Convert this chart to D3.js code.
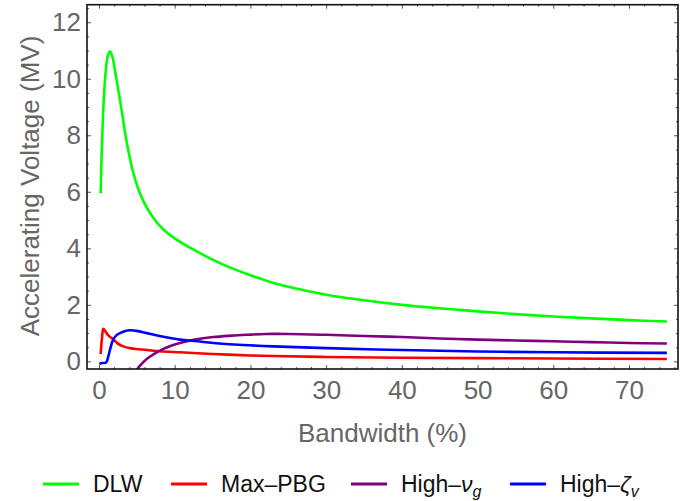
<!DOCTYPE html>
<html>
<head>
<meta charset="utf-8">
<script src="https://cdn.jsdelivr.net/npm/d3@7"></script>
<style>
  body { margin: 0; background: #fff; }
  svg { display: block; font-family: "Liberation Sans", Arial, sans-serif; }
</style>
</head>
<body>
<div id="chart"></div>
<script>
// Accelerating voltage vs bandwidth, 4 structures

const xMajorTicks = [0, 10, 20, 30, 40, 50, 60, 70];
const yMajorTicks = [0, 2, 4, 6, 8, 10, 12];

const seriesNames = ["DLW", "Max–PBG", "High–ν_g", "High–ζ_v"];

// [bandwidth %, voltage MV]
const dlwPoints = [
  [0.22, 5.95], [0.35, 7.3], [0.5, 8.5], [0.7, 9.6], [0.9, 10.3], [1.15, 10.8],
  [1.45, 10.96], [1.75, 10.8], [2.1, 10.3], [2.8, 9.2], [3.7, 7.7], [4.5, 6.7],
  [5.4, 5.95], [6.3, 5.45], [7.2, 5.07], [8, 4.8], [9, 4.55], [10, 4.35],
  [11.2, 4.15], [12.5, 3.95], [15, 3.6], [17.5, 3.3], [20, 3.05], [22.5, 2.82],
  [25, 2.64], [30, 2.36], [35, 2.16], [40, 2.0], [45, 1.88], [50, 1.77],
  [55, 1.67], [60, 1.59], [65, 1.52], [70, 1.46], [75, 1.41],
];

const maxPbgPoints = [
  [0.22, 0.26], [0.4, 0.85], [0.57, 1.15], [0.8, 1.08], [1.2, 0.93], [1.9, 0.77],
  [2.5, 0.63], [3.2, 0.53], [4.2, 0.46], [5.3, 0.43], [6.3, 0.4], [8, 0.36],
  [10.7, 0.32], [15, 0.26], [20, 0.21], [23, 0.19], [30, 0.155], [40, 0.13],
  [50, 0.115], [60, 0.1], [75, 0.085],
];

const highVgPoints = [
  [4.6, -0.45], [5.06, -0.27], [5.6, -0.1], [6.3, 0.08], [7.4, 0.28], [8.5, 0.44],
  [9.6, 0.56], [10.7, 0.65], [12.5, 0.76], [15.1, 0.86], [17.5, 0.91], [19.5, 0.94],
  [22, 0.97], [25, 0.97], [30, 0.94], [35, 0.9], [40, 0.86], [45, 0.81],
  [50, 0.77], [55, 0.74], [60, 0.71], [65, 0.68], [70, 0.65], [75, 0.63],
];

const highZetaPoints = [
  [0.04, -0.09], [0.4, -0.06], [0.9, -0.05], [1.1, 0.05], [1.3, 0.25], [1.45, 0.41],
  [1.7, 0.65], [1.9, 0.79], [2.3, 0.92], [2.77, 1.0], [3.4, 1.07], [4.1, 1.1],
  [5, 1.08], [6.3, 1.0], [8, 0.9], [10.7, 0.77], [13, 0.71], [15.1, 0.65],
  [19, 0.58], [23, 0.53], [30, 0.47], [40, 0.4], [50, 0.35], [60, 0.32], [75, 0.3],
];

const seriesPoints = [dlwPoints, maxPbgPoints, highVgPoints, highZetaPoints];
const seriesColors = ["#00ff00", "#ff0000", "#800080", "#0000ff"];

const margin = { top: 4.7, right: 21, bottom: 132, left: 87 };
const totalW = 699;
const totalH = 501;
const width = totalW - margin.left - margin.right;
const height = totalH - margin.top - margin.bottom;

const svg = d3
  .select("#chart")
  .append("svg")
  .attr("width", totalW)
  .attr("height", totalH);

const g = svg
  .append("g")
  .attr("transform", `translate(${margin.left},${margin.top})`);

const x = d3.scaleLinear().domain([-1.585, 76.47]).range([0, width]);
const y = d3.scaleLinear().domain([-0.27, 12.62]).range([height, 0]);

const xMinor = d3.range(0, 77, 2).filter((v) => v % 10 !== 0);
const yMinor = d3.range(0, 12.6, 0.5).filter((v) => v % 2 !== 0);

/* ---------- Lines ---------- */
g.append("clipPath")
  .attr("id", "plot-clip")
  .append("rect")
  .attr("width", width)
  .attr("height", height);

const line = d3
  .line()
  .x((d) => x(d[0]))
  .y((d) => y(d[1]))
  .curve(d3.curveCatmullRom.alpha(0.5));

g.append("g")
  .attr("clip-path", "url(#plot-clip)")
  .selectAll(".series")
  .data(seriesPoints)
  .enter()
  .append("path")
  .attr("class", "series")
  .attr("fill", "none")
  .attr("stroke", (d, i) => seriesColors[i])
  .attr("stroke-width", 2.6)
  .attr("stroke-linejoin", "round")
  .attr("d", line);

/* ---------- Axes (ticks inside frame) ---------- */
function styleAxis(sel) {
  sel.select(".domain").remove();
  sel.selectAll(".tick line").attr("stroke", "#555").attr("stroke-width", 1);
  sel.selectAll(".tick text").attr("fill", "#666").attr("font-size", "26px");
  sel.attr("font-family", null);
}

g.append("g")
  .attr("transform", `translate(0,${height})`)
  .call(d3.axisBottom(x).tickValues(xMajorTicks).tickSize(-4).tickPadding(11.5))
  .call(styleAxis);
g.append("g")
  .attr("transform", `translate(0,${height})`)
  .call(d3.axisBottom(x).tickValues(xMinor).tickSize(-2).tickFormat(""))
  .call(styleAxis);
g.append("g")
  .call(d3.axisTop(x).tickValues(xMajorTicks).tickSize(-4).tickFormat(""))
  .call(styleAxis);
g.append("g")
  .call(d3.axisTop(x).tickValues(xMinor).tickSize(-2).tickFormat(""))
  .call(styleAxis);

g.append("g")
  .call(d3.axisLeft(y).tickValues(yMajorTicks).tickSize(-4).tickPadding(6))
  .call(styleAxis);
g.append("g")
  .call(d3.axisLeft(y).tickValues(yMinor).tickSize(-2).tickFormat(""))
  .call(styleAxis);
g.append("g")
  .attr("transform", `translate(${width},0)`)
  .call(d3.axisRight(y).tickValues(yMajorTicks).tickSize(-4).tickFormat(""))
  .call(styleAxis);
g.append("g")
  .attr("transform", `translate(${width},0)`)
  .call(d3.axisRight(y).tickValues(yMinor).tickSize(-2).tickFormat(""))
  .call(styleAxis);

// frame
g.append("rect")
  .attr("width", width)
  .attr("height", height)
  .attr("fill", "none")
  .attr("stroke", "#111")
  .attr("stroke-width", 1.6);

/* ---------- Axis labels ---------- */
svg
  .append("text")
  .attr("x", margin.left + width / 2)
  .attr("y", 441.5)
  .attr("text-anchor", "middle")
  .attr("fill", "#666")
  .attr("font-size", "26px")
  .text("Bandwidth (%)");

svg
  .append("text")
  .attr("transform", "rotate(-90)")
  .attr("x", -186)
  .attr("y", 39)
  .attr("text-anchor", "middle")
  .attr("fill", "#666")
  .attr("font-size", "26px")
  .text("Accelerating Voltage (MV)");

/* ---------- Legend ---------- */
const legendX = [43, 171, 351, 510];
const legend = svg.append("g");

seriesNames.forEach((name, i) => {
  const item = legend.append("g").attr("transform", `translate(${legendX[i]},484)`);
  item
    .append("line")
    .attr("x1", 0)
    .attr("x2", 36)
    .attr("stroke", seriesColors[i])
    .attr("stroke-width", 3);
  const t = item
    .append("text")
    .attr("x", 50)
    .attr("y", 8)
    .attr("fill", "#111")
    .attr("font-size", "23px");
  const parts = name.split("_");
  if (parts.length === 1) {
    t.text(name);
  } else {
    const base = parts[0].slice(0, -1);
    t.append("tspan").text(base);
    t.append("tspan").attr("font-style", "italic").text(parts[0].slice(-1));
    t.append("tspan")
      .attr("font-style", "italic")
      .attr("font-size", "16px")
      .attr("dy", 5)
      .text(parts[1]);
  }
});
</script>
</body>
</html>
